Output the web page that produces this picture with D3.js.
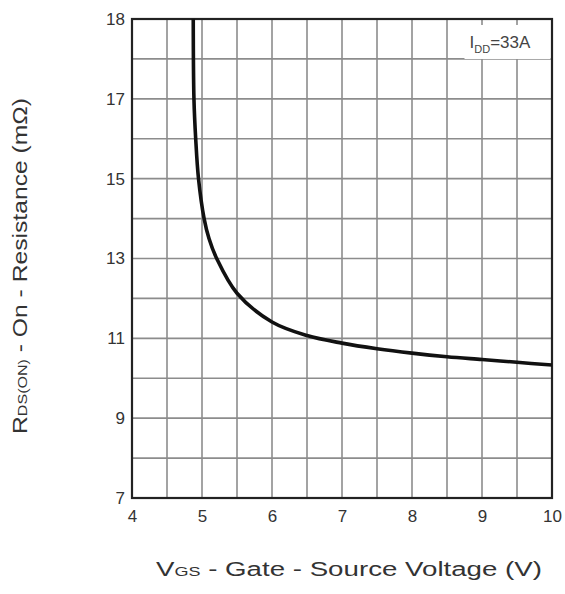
<!DOCTYPE html>
<html>
<head>
<meta charset="utf-8">
<script src="https://cdn.jsdelivr.net/npm/d3@7"></script>
<style>
  body { margin: 0; background: #fff; }
  svg { display: block; font-family: "Liberation Sans", Arial, sans-serif; }
  .grid line { stroke: #8c8c8c; stroke-width: 1.6; }
  .axis text { fill: #333; font-size: 17px; }
  .axis path, .axis line { display: none; }
</style>
</head>
<body>
<svg id="chart"></svg>
<script>
// Vgs (V) vs Rds(on) (mOhm)
const vgs = [4.875, 4.885, 4.91, 4.95, 5.03, 5.10, 5.21, 5.50, 6.0, 6.5, 7.0, 7.5, 8.0, 8.5, 9.0, 9.5, 10.0];
const rds = [19.0, 17.0, 16.0, 15.0, 14.0, 13.5, 13.0, 12.13, 11.41, 11.07, 10.88, 10.74, 10.63, 10.54, 10.47, 10.40, 10.33];

const xTicks = [4, 5, 6, 7, 8, 9, 10];
const yTicks = [7, 9, 11, 13, 15, 17, 19];
const yTickLabels = ['7', '9', '11', '13', '15', '17', '18'];
const xGrid = d3.range(4, 10.01, 0.5);
const yGrid = d3.range(7, 19.01, 1);

class RdsChart {
  constructor(_config) {
    this.config = {
      parentElement: _config.parentElement,
      containerWidth: _config.containerWidth || 565,
      containerHeight: _config.containerHeight || 594,
      margin: _config.margin || {top: 19, right: 13, bottom: 96, left: 132}
    };
    this.initVis();
  }

  initVis() {
    let vis = this;
    vis.width = vis.config.containerWidth - vis.config.margin.left - vis.config.margin.right;
    vis.height = vis.config.containerHeight - vis.config.margin.top - vis.config.margin.bottom;

    vis.xScale = d3.scaleLinear().domain([4, 10]).range([0, vis.width]);
    vis.yScale = d3.scaleLinear().domain([7, 19]).range([vis.height, 0]);

    vis.svg = d3.select(vis.config.parentElement)
      .attr('width', vis.config.containerWidth)
      .attr('height', vis.config.containerHeight);

    vis.chart = vis.svg.append('g')
      .attr('transform', `translate(${vis.config.margin.left},${vis.config.margin.top})`);

    vis.chart.append('clipPath').attr('id', 'plot-clip')
      .append('rect').attr('width', vis.width).attr('height', vis.height);
  }

  renderVis() {
    let vis = this;

    // grid
    const grid = vis.chart.append('g').attr('class', 'grid');
    grid.selectAll('.vx').data(xGrid).join('line')
      .attr('x1', d => vis.xScale(d)).attr('x2', d => vis.xScale(d))
      .attr('y1', 0).attr('y2', vis.height);
    grid.selectAll('.hy').data(yGrid).join('line')
      .attr('y1', d => vis.yScale(d)).attr('y2', d => vis.yScale(d))
      .attr('x1', 0).attr('x2', vis.width);

    // axes (labels only)
    vis.chart.append('g')
      .attr('class', 'axis x-axis')
      .attr('transform', `translate(0,${vis.height})`)
      .call(d3.axisBottom(vis.xScale).tickValues(xTicks).tickSize(0).tickPadding(12).tickFormat(d3.format('d')));

    vis.chart.append('g')
      .attr('class', 'axis y-axis')
      .call(d3.axisLeft(vis.yScale).tickValues(yTicks).tickSize(0).tickPadding(7)
        .tickFormat((d, i) => yTickLabels[i]));

    // legend box
    const lg = vis.chart.append('g').attr('transform', `translate(${vis.xScale(8.75)},${vis.yScale(18.85)})`);
    lg.append('rect').attr('width', 86).attr('height', 34).attr('fill', '#fff');
    const lt = lg.append('text').attr('x', 5).attr('y', 23).attr('fill', '#444').style('font-size', '17px');
    lt.append('tspan').text('I');
    lt.append('tspan').attr('dy', 5).style('font-size', '11px').text('DD');
    lt.append('tspan').attr('dy', -5).text('=33A');

    // frame
    vis.chart.append('rect')
      .attr('width', vis.width).attr('height', vis.height)
      .attr('fill', 'none').attr('stroke', '#222').attr('stroke-width', 2.2);

    // curve
    vis.chart.append('path')
      .datum(rds)
      .attr('clip-path', 'url(#plot-clip)')
      .attr('fill', 'none')
      .attr('stroke', '#111')
      .attr('stroke-width', 3.6)
      .attr('d', d3.line()
        .x((d, i) => vis.xScale(vgs[i]))
        .y(d => vis.yScale(d))
        .curve(d3.curveCatmullRom.alpha(0.5)));

    // axis titles
    const xt = vis.svg.append('text')
      .attr('x', 349).attr('y', 576)
      .attr('text-anchor', 'middle').attr('fill', '#333')
      .attr('textLength', 386).attr('lengthAdjust', 'spacingAndGlyphs')
      .style('font-size', '20px');
    xt.append('tspan').text('V');
    xt.append('tspan').style('font-size', '13px').text('GS');
    xt.append('tspan').text(' - Gate - Source Voltage (V)');

    const yt = vis.svg.append('text')
      .attr('transform', 'translate(27,266) rotate(-90)')
      .attr('text-anchor', 'middle').attr('fill', '#333')
      .attr('textLength', 336).attr('lengthAdjust', 'spacingAndGlyphs')
      .style('font-size', '20px');
    yt.append('tspan').text('R');
    yt.append('tspan').style('font-size', '13px').text('DS(ON)');
    yt.append('tspan').text(' - On - Resistance (m\u03A9)');
  }
}

const chart = new RdsChart({parentElement: '#chart'});
chart.renderVis();
</script>
</body>
</html>
